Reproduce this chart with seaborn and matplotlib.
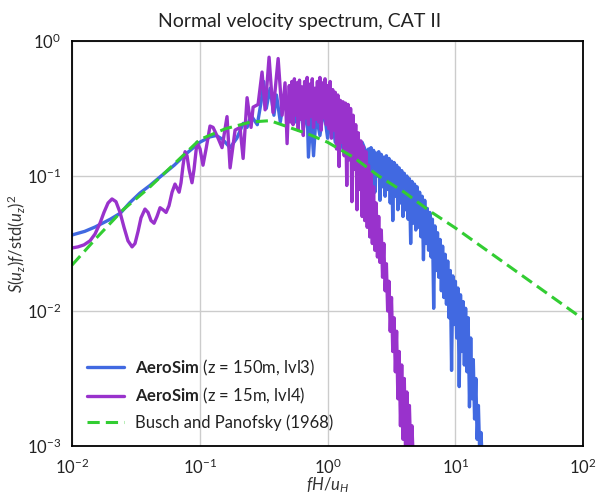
import numpy as np
import pandas as pd
import matplotlib
matplotlib.use("Agg")
import matplotlib.pyplot as plt
import seaborn as sns

# ---------------- data (log10 values) ----------------
# Busch and Panofsky (1968) reference curve
bp_logf = [-2.0, -1.8, -1.6, -1.4, -1.2, -1.0, -0.8, -0.6, -0.45, -0.3, -0.15,
           0.0, 0.2, 0.4, 0.6, 0.8, 1.0, 1.2, 1.4, 1.6, 1.8, 2.0]
bp_logS = [-1.66, -1.45, -1.25, -1.09, -0.91, -0.73, -0.65, -0.60, -0.59, -0.64, -0.69,
           -0.75, -0.86, -1.00, -1.12, -1.26, -1.385, -1.52, -1.655, -1.79, -1.925, -2.06]

# AeroSim z = 150m, lvl3 (blue)
blue_logf = [-2.0, -1.9, -1.82, -1.7, -1.62, -1.55, -1.468, -1.39, -1.311, -1.2, -1.1,
             -1.0, -0.92, -0.87, -0.82, -0.763, -0.71, -0.66, -0.63, -0.60,
             -0.55, -0.52, -0.50, -0.48, -0.45, -0.42, -0.40, -0.37, -0.34, -0.31,
             -0.28, -0.25, -0.22, -0.19, -0.16, -0.15, -0.13, -0.11, -0.09, -0.06,
             -0.03, 0.0, 0.03, 0.06, 0.09, 0.12, 0.15, 0.18, 0.21, 0.24, 0.27,
             0.30, 0.31, 0.32, 0.33, 0.34, 0.35, 0.36, 0.37, 0.38, 0.39,
             0.40, 0.41, 0.42, 0.43, 0.44, 0.45, 0.46, 0.47, 0.48, 0.49,
             0.50, 0.51, 0.52, 0.53, 0.54, 0.55, 0.56, 0.57, 0.58, 0.59,
             0.60, 0.61, 0.62, 0.63, 0.64, 0.65, 0.66, 0.67, 0.68, 0.69,
             0.70, 0.71, 0.72, 0.73, 0.74, 0.75, 0.76, 0.77, 0.78, 0.79,
             0.80, 0.81, 0.82, 0.83, 0.84, 0.85, 0.86, 0.87, 0.88, 0.89,
             0.90, 0.91, 0.92, 0.93, 0.94, 0.95, 0.96, 0.97, 0.98, 0.99,
             1.00, 1.01, 1.02, 1.03, 1.04, 1.05, 1.06, 1.07, 1.08, 1.09,
             1.10, 1.11, 1.12, 1.13, 1.14, 1.15, 1.16, 1.17, 1.18, 1.19,
             1.20, 1.21]
blue_logS = [-1.437, -1.41, -1.378, -1.32, -1.274, -1.20, -1.126, -1.07, -1.007, -0.92, -0.83,
             -0.75, -0.71, -0.70, -0.73, -0.79, -0.72, -0.61, -0.64, -0.55,
             -0.62, -0.45, -0.30, -0.50, -0.35, -0.55, -0.40, -0.60, -0.42, -0.55,
             -0.38, -0.60, -0.45, -0.65, -0.50, -0.86, -0.55, -0.85, -0.55, -0.70,
             -0.50, -0.72, -0.52, -0.75, -0.60, -0.80, -0.62, -0.85, -0.70, -0.92, -0.75,
             -0.82, -1.10, -0.80, -1.45, -0.79, -1.05, -0.81, -1.12, -0.83, -1.00,
             -0.82, -1.18, -0.84, -1.08, -0.86, -1.15, -0.85, -1.10, -0.87, -1.20,
             -0.89, -1.33, -0.90, -1.15, -0.92, -1.25, -0.94, -1.20, -0.96, -1.30,
             -0.98, -1.25, -1.00, -1.32, -1.02, -1.50, -1.04, -1.35, -1.06, -1.40,
             -1.08, -1.38, -1.12, -1.45, -1.15, -1.62, -1.18, -1.50, -1.24, -1.55,
             -1.27, -1.60, -1.32, -1.98, -1.37, -1.70, -1.42, -1.75, -1.47, -1.85,
             -1.52, -1.90, -1.58, -1.95, -1.63, -2.05, -1.70, -2.44, -1.74, -2.10,
             -1.78, -2.20, -1.83, -2.56, -1.88, -2.30, -1.93, -2.40, -1.98, -2.45,
             -2.05, -2.71, -2.20, -2.65, -2.36, -2.80, -2.50, -2.95, -2.70, -3.05,
             -2.90, -3.10]

# AeroSim z = 15m, lvl4 (purple)
purple_logf = [-2.000, -1.953, -1.906, -1.859, -1.820, -1.781, -1.750, -1.718, -1.687, -1.656,
               -1.624, -1.593, -1.562, -1.530, -1.507, -1.483, -1.460, -1.429, -1.405, -1.382,
               -1.358, -1.335, -1.311, -1.288, -1.264, -1.241, -1.217, -1.194, -1.178, -1.162,
               -1.147, -1.131, -1.115, -1.100, -1.084, -1.061, -1.045, -1.022, -0.998, -0.975,
               -0.951, -0.920, -0.896, -0.857, -0.826, -0.787, -0.763, -0.724, -0.685, -0.661,
               -0.630, -0.599, -0.583, -0.544, -0.513, -0.489, -0.458, -0.427, -0.387, -0.356,
               -0.333, -0.317,
               -0.30, -0.29, -0.28, -0.27, -0.26, -0.25, -0.24, -0.23, -0.22, -0.21,
               -0.20, -0.19, -0.18, -0.17, -0.16, -0.15, -0.14, -0.13, -0.12, -0.11,
               -0.10, -0.09, -0.08, -0.07, -0.06, -0.05, -0.04, -0.03, -0.02, -0.01,
               0.00, 0.01, 0.02, 0.03, 0.04, 0.05, 0.06, 0.07, 0.08, 0.09,
               0.10, 0.11, 0.12, 0.13, 0.14, 0.15, 0.16, 0.17, 0.18, 0.19,
               0.20, 0.21, 0.22, 0.23, 0.24, 0.25, 0.26, 0.27, 0.28, 0.29,
               0.30, 0.31, 0.32, 0.33, 0.34, 0.35, 0.36, 0.37, 0.38, 0.39,
               0.40, 0.41, 0.42, 0.43, 0.44, 0.45, 0.46, 0.47, 0.48, 0.49,
               0.50, 0.51, 0.52, 0.53, 0.54, 0.55, 0.56, 0.57, 0.58, 0.59,
               0.60, 0.61, 0.62, 0.63, 0.64, 0.65, 0.66, 0.67]
purple_logS = [-1.533, -1.525, -1.51, -1.48, -1.43, -1.35, -1.27, -1.20, -1.17, -1.19,
               -1.27, -1.38, -1.48, -1.525, -1.50, -1.41, -1.31, -1.245, -1.27, -1.33,
               -1.35, -1.30, -1.235, -1.25, -1.27, -1.22, -1.12, -1.06, -1.09, -1.12,
               -1.05, -0.92, -0.82, -0.85, -0.95, -1.05, -0.95, -0.75, -0.80, -0.92,
               -0.80, -0.63, -0.64, -0.72, -0.79, -0.56, -0.94, -0.66, -0.64, -0.87,
               -0.42, -0.64, -0.49, -0.47, -0.23, -0.51, -0.12, -0.53, -0.13, -0.55,
               -0.31, -0.76,
               -0.33, -0.60, -0.30, -0.62, -0.28, -0.55, -0.31, -0.66, -0.29, -0.58,
               -0.34, -0.70, -0.30, -0.57, -0.27, -0.62, -0.32, -0.56, -0.28, -0.64,
               -0.35, -0.58, -0.30, -0.60, -0.27, -0.66, -0.31, -0.57, -0.28, -0.62,
               -0.33, -0.65, -0.30, -0.72, -0.36, -0.66, -0.38, -0.80, -0.40, -0.93,
               -0.44, -0.75, -0.45, -0.85, -0.46, -1.07, -0.47, -0.88, -0.50, -1.19,
               -0.55, -0.95, -0.62, -1.25, -0.68, -1.10, -0.74, -1.30, -0.78, -1.33,
               -0.82, -1.38, -0.92, -1.45, -0.98, -1.50, -1.08, -1.55, -1.20, -1.60,
               -1.30, -1.64, -1.40, -1.75, -1.50, -1.85, -1.65, -2.00, -1.78, -2.15,
               -1.90, -2.30, -2.05, -2.45, -2.15, -2.65, -2.30, -2.85, -2.40, -2.95,
               -2.50, -3.05, -2.60, -3.05, -2.70, -3.05, -2.85, -3.10]

labels = [r"$\bf{AeroSim}$ (z = 150m, lvl3)",
          r"$\bf{AeroSim}$ (z = 15m, lvl4)",
          "Busch and Panofsky (1968)"]
colors = ["#4169E1", "#9932CC", "#32CD32"]

# ---------------- style ----------------
sns.set_theme(style="whitegrid")
FONT = "Lato"
plt.rcParams["font.family"] = [FONT, "DejaVu Sans"]
plt.rcParams["mathtext.fontset"] = "custom"
plt.rcParams["mathtext.rm"] = FONT
plt.rcParams["mathtext.it"] = FONT + ":italic"
plt.rcParams["mathtext.bf"] = FONT + ":bold"

fig, ax = plt.subplots(figsize=(6, 5), dpi=100)
fig.subplots_adjust(left=0.12, right=0.972, top=0.918, bottom=0.108)

def frame(lf, ls):
    return pd.DataFrame({"f": 10.0 ** np.asarray(lf), "S": 10.0 ** np.asarray(ls)})

sns.lineplot(data=frame(blue_logf, blue_logS), x="f", y="S", ax=ax, sort=False,
             estimator=None, color=colors[0], lw=2.4, label=labels[0])
sns.lineplot(data=frame(purple_logf, purple_logS), x="f", y="S", ax=ax, sort=False,
             estimator=None, color=colors[1], lw=2.4, label=labels[1])
sns.lineplot(data=frame(bp_logf, bp_logS), x="f", y="S", ax=ax, sort=False,
             estimator=None, color=colors[2], lw=2.2, label=labels[2],
             dashes=False)
ax.lines[-1].set_dashes([4, 2])

ax.set_xscale("log")
ax.set_yscale("log")
ax.set_xlim(1e-2, 1e2)
ax.set_ylim(1e-3, 1e0)
ax.minorticks_off()
ax.grid(True, which="major", color="#cccccc", lw=1)
for s in ax.spines.values():
    s.set_color("black")
    s.set_linewidth(1.3)
ax.tick_params(labelsize=12, colors="#222222", pad=2)

ax.set_xlabel(r"$fH/u_H$", fontsize=12, color="#333333")
ax.set_ylabel(r"$S(u_z)f/\mathrm{std}(u_z)^2$", fontsize=12, color="#333333")
ax.xaxis.set_label_coords(0.5, -0.072)
ax.yaxis.set_label_coords(-0.088, 0.5)
fig.suptitle("Normal velocity spectrum, CAT II", fontsize=14, y=0.975, color="#222222")

leg = ax.legend(loc="lower left", frameon=False, fontsize=12,
                borderaxespad=0.5, handlelength=2.2, handletextpad=0.7)
leg.get_lines()[2].set_dashes([4, 2])
for t in leg.get_texts():
    t.set_color("#222222")

fig.savefig("out.png", dpi=100)
